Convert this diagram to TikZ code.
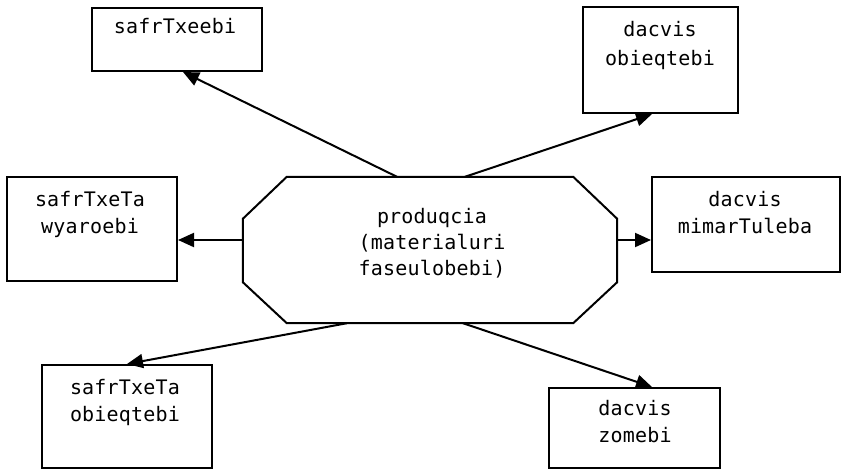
\documentclass[tikz,border=0pt]{standalone}
\usepackage{fontspec}
\newfontfamily\lblfont[LetterSpace=1]{DejaVu Sans Mono}
\usetikzlibrary{arrows.meta}
\tikzset{
  boxnode/.style={draw, line width=2pt, inner sep=0pt, minimum width=#1},
  lbl/.style={anchor=north, inner sep=0pt, align=center, font=\lblfont\fontsize{20}{27}\selectfont},
  arr/.style={line width=2pt, -{Triangle[length=16pt,width=14pt]}},
}
\begin{document}
\begin{tikzpicture}[x=1pt,y=-1pt]
\useasboundingbox[fill=white] (0,0) rectangle (846,471);
% boxes
\node[boxnode=170pt, minimum height=63pt] (b1) at (177,39.5) {};
\node[boxnode=155pt, minimum height=106pt] (b2) at (660.5,60) {};
\node[boxnode=170pt, minimum height=104pt] (b3) at (92,229) {};
\node[boxnode=188pt, minimum height=95pt] (b4) at (746,224.5) {};
\node[boxnode=170pt, minimum height=103pt] (b5) at (127,416.5) {};
\node[boxnode=171pt, minimum height=80pt] (b6) at (634.5,428) {};
% octagon
\node[minimum width=374pt, minimum height=146pt, inner sep=0pt] (prod) at (430,250) {};
\draw[line width=2pt, line join=miter]
  ([xshift=44pt]prod.north west) -- ([xshift=-44pt]prod.north east)
  -- ([yshift=-42pt]prod.north east) -- ([yshift=41pt]prod.south east)
  -- ([xshift=-44pt]prod.south east) -- ([xshift=44pt]prod.south west)
  -- ([yshift=41pt]prod.south west) -- ([yshift=-42pt]prod.north west) -- cycle;
% labels
\node[lbl] (t1) at (175,18) {safrTxeebi};
\node[lbl, font=\lblfont\fontsize{20}{29}\selectfont] (t2) at (660,21) {dacvis\\obieqtebi};
\node[lbl] (t3) at (90,191) {safrTxeTa\\wyaroebi};
\node[lbl] (t4) at (745,191) {dacvis\\mimarTuleba};
\node[lbl] (t5) at (125,379) {safrTxeTa\\obieqtebi};
\node[lbl] (t6) at (635,400) {dacvis\\zomebi};
\node[lbl, font=\lblfont\fontsize{20}{26}\selectfont] (t0) at (432,208) {produqcia\\(materialuri\\faseulobebi)};
% arrows
\draw[arr] ([xshift=-33pt]prod.north) -- ([xshift=6pt]b1.south);
\draw[arr] ([xshift=35pt]prod.north) -- ([xshift=-8.5pt]b2.south);
\draw[arr] ([yshift=10pt]prod.west) -- ([yshift=10pt]prod.west -| b3.east);
\draw[arr] ([yshift=10pt]prod.east) -- ([yshift=10pt]prod.east -| b4.west);
\draw[arr] ([xshift=-83pt]prod.south) -- (b5.north);
\draw[arr] ([xshift=33pt]prod.south) -- ([xshift=17.5pt]b6.north);
\end{tikzpicture}
\end{document}
